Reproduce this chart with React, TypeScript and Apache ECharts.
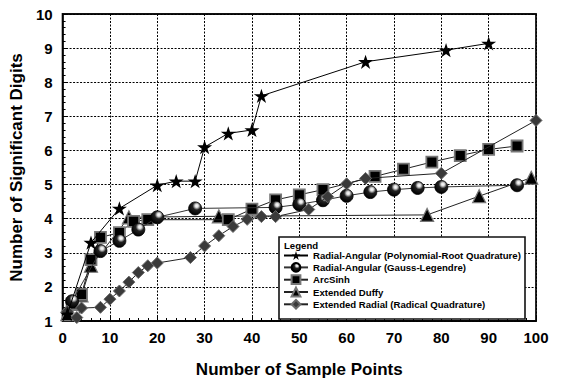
import React, { useEffect, useRef } from "react";
import * as echarts from "echarts";

const xTicks = [0, 10, 20, 30, 40, 50, 60, 70, 80, 90, 100];
const yTicks = [1, 2, 3, 4, 5, 6, 7, 8, 9, 10];

const seriesNames = [
  "Radial-Angular (Polynomial-Root Quadrature)",
  "Radial-Angular (Gauss-Legendre)",
  "ArcSinh",
  "Extended Duffy",
  "Extended Radial (Radical Quadrature)",
];

const starX = [1, 6, 12, 20, 24, 28, 30, 35, 40, 42, 64, 81, 90];
const starY = [1.2, 3.3, 4.3, 4.98, 5.1, 5.1, 6.1, 6.5, 6.6, 7.6, 8.6, 8.94, 9.14];

const circleX = [2, 8, 12, 16, 20, 28, 45, 50, 55, 60, 65, 70, 75, 80, 96];
const circleY = [1.58, 3.05, 3.35, 3.68, 4.04, 4.3, 4.33, 4.42, 4.54, 4.67, 4.78, 4.85, 4.9, 4.93, 4.98];

const squareX = [2, 4, 6, 8, 12, 15, 18, 35, 40, 45, 50, 55, 66, 72, 78, 84, 90, 96];
const squareY = [1.5, 1.78, 2.8, 3.45, 3.59, 3.92, 3.97, 3.97, 4.28, 4.55, 4.7, 4.85, 5.24, 5.45, 5.66, 5.85, 6.03, 6.13];

const triangleX = [1, 2, 4, 6, 14, 33, 77, 88, 99];
const triangleY = [1.2, 1.5, 1.75, 2.62, 4.04, 4.07, 4.11, 4.66, 5.2];

const diamondX = [1, 3, 4, 8, 10, 12, 14, 16, 18, 20, 27, 30, 33, 36, 39, 42, 45, 52, 56, 60, 64, 80, 100];
const diamondY = [1.28, 1.1, 1.38, 1.4, 1.64, 1.88, 2.14, 2.42, 2.62, 2.7, 2.86, 3.2, 3.5, 3.77, 3.98, 4.06, 4.06, 4.27, 4.64, 5.02, 5.18, 5.33, 6.88];

const pairs = (xs: number[], ys: number[]) => xs.map((x, i) => [x, ys[i]]);

const STAR =
  "path://M50,0 L61.2,34.5 L97.6,34.5 L68.2,55.9 L79.4,90.5 L50,69.1 L20.6,90.5 L31.8,55.9 L2.4,34.5 L38.8,34.5 Z";

const FONT = "'Liberation Sans', Arial, Helvetica, sans-serif";

export default function App() {
  const ref = useRef<HTMLDivElement>(null);

  useEffect(() => {
    document.body.style.margin = "0";
    if (!ref.current) return;
    const chart = echarts.init(ref.current, undefined, { renderer: "svg" });

    const ballColor = {
      type: "radial",
      x: 0.62,
      y: 0.3,
      r: 0.7,
      colorStops: [
        { offset: 0, color: "#ffffff" },
        { offset: 0.18, color: "#dddddd" },
        { offset: 0.45, color: "#222222" },
        { offset: 1, color: "#000000" },
      ],
    };

    const lineStyle = { color: "#222", width: 1 };

    const option: any = {
      animation: false,
      backgroundColor: "#fff",
      textStyle: { fontFamily: FONT },
      grid: {
        left: 62,
        top: 14,
        right: 27,
        bottom: 54,
        show: true,
        borderColor: "#111",
        borderWidth: 1.8,
        backgroundColor: "transparent",
      },
      xAxis: {
        type: "value",
        min: xTicks[0],
        max: xTicks[xTicks.length - 1],
        interval: 10,
        name: "Number of Sample Points",
        nameLocation: "middle",
        nameGap: 40,
        nameTextStyle: { fontSize: 17, fontWeight: "bold", color: "#000", fontFamily: FONT },
        axisLine: { show: true, lineStyle: { color: "#000", width: 1.5 } },
        axisTick: { show: true, inside: true, length: 5, lineStyle: { color: "#000", width: 1 } },
        minorTick: { show: true, splitNumber: 5, length: 3, lineStyle: { color: "#000", width: 1 } },
        axisLabel: { fontSize: 15, fontWeight: "bold", color: "#000", margin: 9, fontFamily: FONT },
        splitLine: { show: true, lineStyle: { color: "#000", width: 1, type: [2, 1.5] } },
      },
      yAxis: {
        type: "value",
        min: yTicks[0],
        max: yTicks[yTicks.length - 1],
        interval: 1,
        name: "Number of Significant Digits",
        nameLocation: "middle",
        nameGap: 19,
        nameTextStyle: { fontSize: 17, fontWeight: "bold", color: "#000", fontFamily: FONT },
        axisLine: { show: true, lineStyle: { color: "#000", width: 1.5 } },
        axisTick: { show: true, inside: true, length: 5, lineStyle: { color: "#000", width: 1 } },
        minorTick: { show: true, splitNumber: 5, length: 3, lineStyle: { color: "#000", width: 1 } },
        axisLabel: { fontSize: 15, fontWeight: "bold", color: "#000", margin: 10, fontFamily: FONT },
        splitLine: { show: true, lineStyle: { color: "#000", width: 1, type: [2, 1.5] } },
      },
      legend: {
        orient: "vertical",
        left: 283,
        top: 250.5,
        padding: 0,
        itemWidth: 24,
        itemHeight: 11,
        itemGap: 1.5,
        z: 10,
        textStyle: { fontSize: 9.6, fontWeight: "bold", color: "#000", fontFamily: FONT },
        data: seriesNames,
      },
      graphic: [
        {
          type: "rect",
          z: 9,
          shape: { x: 279, y: 237, width: 246, height: 82 },
          style: { fill: "#fff", stroke: "#111", lineWidth: 1.6 },
        },
        {
          type: "text",
          z: 10,
          x: 284,
          y: 245,
          style: {
            text: "Legend",
            fill: "#000",
            font: `bold 9.6px ${FONT}`,
            verticalAlign: "middle",
            align: "left",
          },
        },
      ],
      series: [
        {
          name: seriesNames[0],
          type: "line",
          data: pairs(starX, starY),
          symbol: STAR,
          symbolSize: 15,
          symbolKeepAspect: true,
          lineStyle: { color: "#000", width: 1 },
          itemStyle: { color: "#000", borderColor: "#000", borderWidth: 0 },
          z: 7,
        },
        {
          name: seriesNames[1],
          type: "line",
          data: pairs(circleX, circleY),
          symbol: "circle",
          symbolSize: 13,
          lineStyle: { ...lineStyle, color: "#333" },
          itemStyle: { color: ballColor, borderColor: "#000", borderWidth: 0.8 },
          z: 5,
        },
        {
          name: seriesNames[2],
          type: "line",
          data: pairs(squareX, squareY),
          symbol: "rect",
          symbolSize: 11,
          lineStyle,
          itemStyle: { color: "#000", borderColor: "#777", borderWidth: 1.8 },
          z: 4,
        },
        {
          name: seriesNames[3],
          type: "line",
          data: pairs(triangleX, triangleY),
          symbol: "triangle",
          symbolSize: 13,
          lineStyle,
          itemStyle: { color: "#000", borderColor: "#777", borderWidth: 1.2 },
          z: 3,
        },
        {
          name: seriesNames[4],
          type: "line",
          data: pairs(diamondX, diamondY),
          symbol: "diamond",
          symbolSize: 12,
          lineStyle,
          itemStyle: { color: "#3a3a3a", borderColor: "#6a6a6a", borderWidth: 1 },
          z: 6,
        },
      ],
    };

    chart.setOption(option);
    return () => chart.dispose();
  }, []);

  return <div ref={ref} style={{ width: 563, height: 383 }} />;
}
